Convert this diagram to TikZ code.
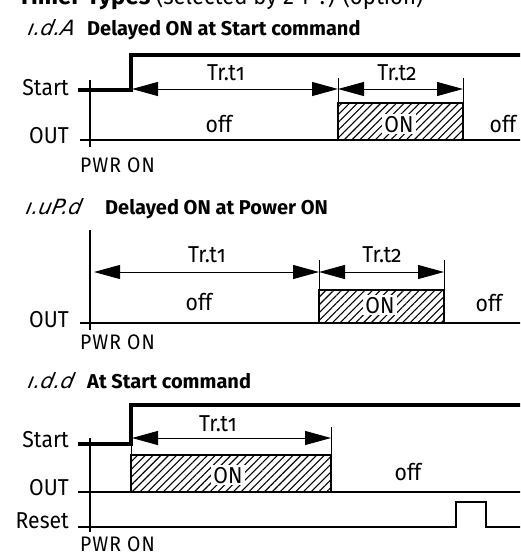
\documentclass[tikz,border=0pt]{standalone}
\usepackage{fontspec}
\setmainfont{Fira Sans}[FakeStretch=0.92]
\newfontfamily\ttlfont{Fira Sans}
\newfontfamily\segfont{DejaVu Sans}[FakeSlant=0.2]
\usetikzlibrary{arrows.meta,patterns.meta}
\newcommand{\trt}[1]{Tr.t{\addfontfeature{Numbers=OldStyle}#1}}
\begin{document}
\begin{tikzpicture}[x=1pt,y=-1pt,
  lbl/.style={font=\fontsize{23}{26}\selectfont, anchor=base east, inner sep=0pt},
  txt/.style={font=\fontsize{23}{26}\selectfont, anchor=base, inner sep=0pt},
  ttl/.style={font=\fontsize{20}{23}\ttlfont\bfseries, anchor=base west, inner sep=0pt},
  seg/.style={font=\fontsize{21}{24}\segfont\itshape, anchor=base west, inner sep=0pt},
  hdrs/.style={font=\fontsize{24}{27}\selectfont, anchor=base west, inner sep=0pt},
  pwr/.style={font=\fontsize{21}{24}\selectfont\addfontfeature{LetterSpace=5}, anchor=base west, inner sep=0pt},
  sig/.style={line width=3.2pt, line cap=rect},
  basel/.style={line width=1.8pt},
  axis/.style={line width=1.8pt},
  thin/.style={line width=0.6pt},
  dim/.style={line width=1pt, {Triangle[length=26pt,width=14pt]}-{Triangle[length=26pt,width=14pt]}},
  hatch/.style={draw, line width=1.8pt, pattern={Lines[angle=45,distance=5.5pt,line width=1.1pt]}},
  onlbl/.style={font=\fontsize{23}{26}\selectfont, anchor=base, fill=white, inner sep=2pt}
]
\useasboundingbox (0,0) rectangle (520,554);
\clip (0,0) rectangle (520,554);
% clipped heading (only its lower part lies inside the page)
\node[hdrs] (hdr) at (18,5) {{\ttlfont\bfseries Timer Types} (selected by 2-r-?) (option)};

% ================= Section 1 =================
\node[seg] (s1) at (27,35) {ı.d.A};
\node[ttl] (t1) at (87,35) {Delayed ON at Start command};
\coordinate (a1t) at (90,80); \coordinate (a1b) at (90,147);
\draw[axis] (a1t) -- (a1b);
\coordinate (st1a) at (80,90); \coordinate (st1b) at (131,90);
\coordinate (st1c) at (131,55); \coordinate (st1d) at (525,55);
\draw[sig] (st1a) -- (st1b) -- (st1c) -- (st1d);
\coordinate (o1a) at (80,140); \coordinate (o1b) at (525,140);
\draw[basel] (o1a) -- (o1b);
\node[lbl] (start1) at (69,95) {Start};
\node[lbl] (out1) at (69,143) {OUT};
\node[pwr] (p1) at (80,172) {PWR ON};
\coordinate (v1a) at (338,78); \coordinate (v1b) at (338,103);
\coordinate (v2a) at (463,78); \coordinate (v2b) at (463,103);
\draw[thin] (v1a) -- (v1b);
\draw[thin] (v2a) -- (v2b);
\coordinate (d1a) at (132,89); \coordinate (d1b) at (338,89); \coordinate (d1c) at (463,89);
\draw[dim] (d1a) -- (d1b);
\draw[dim] (d1b) -- (d1c);
\node[txt] (tr11) at (226,80) {\trt{1}};
\node[txt] (tr12) at (397,80) {\trt{2}};
\coordinate (b1a) at (338,103); \coordinate (b1b) at (463,140);
\draw[hatch] (b1a) rectangle (b1b);
\node[onlbl] (on1) at (399,132) {ON};
\node[txt] (off11) at (219,132) {off};
\node[txt] (off12) at (503,132) {off};

% ================= Section 2 =================
\node[seg] (s2) at (25,214) {ı.uP.d};
\node[ttl] (t2) at (105,214) {Delayed ON at Power ON};
\coordinate (a2t) at (90,230); \coordinate (a2b) at (90,330);
\draw[axis] (a2t) -- (a2b);
\coordinate (o2a) at (80,323); \coordinate (o2b) at (525,323);
\draw[basel] (o2a) -- (o2b);
\node[lbl] (out2) at (69,327) {OUT};
\node[pwr] (p2) at (80,349) {PWR ON};
\coordinate (w1a) at (319,260); \coordinate (w1b) at (319,290);
\coordinate (w2a) at (444,260); \coordinate (w2b) at (444,290);
\draw[thin] (w1a) -- (w1b);
\draw[thin] (w2a) -- (w2b);
\coordinate (d2a) at (94,272); \coordinate (d2b) at (319,272); \coordinate (d2c) at (444,272);
\draw[dim] (d2a) -- (d2b);
\draw[dim] (d2b) -- (d2c);
\node[txt] (tr21) at (207,262) {\trt{1}};
\node[txt] (tr22) at (382,262) {\trt{2}};
\coordinate (b2a) at (319,290); \coordinate (b2b) at (444,323);
\draw[hatch] (b2a) rectangle (b2b);
\node[onlbl] (on2) at (380,313) {ON};
\node[txt] (off21) at (199,310) {off};
\node[txt] (off22) at (489,311) {off};

% ================= Section 3 =================
\node[seg] (s3) at (27,388) {ı.d.d};
\node[ttl] (t3) at (87,388) {At Start command};
\coordinate (a3t) at (90,438); \coordinate (a3b) at (90,532);
\draw[axis] (a3t) -- (a3b);
\coordinate (st3a) at (80,444); \coordinate (st3b) at (131,444);
\coordinate (st3c) at (131,405); \coordinate (st3d) at (525,405);
\draw[sig] (st3a) -- (st3b) -- (st3c) -- (st3d);
\coordinate (o3a) at (78,492); \coordinate (o3b) at (525,492);
\draw[basel] (o3a) -- (o3b);
\coordinate (r3a) at (78,527); \coordinate (r3b) at (456,527);
\coordinate (r3c) at (456,502); \coordinate (r3d) at (486,502);
\coordinate (r3e) at (486,527); \coordinate (r3f) at (525,527);
\draw[basel] (r3a) -- (r3b) -- (r3c) -- (r3d) -- (r3e) -- (r3f);
\node[lbl] (start3) at (69,447) {Start};
\node[lbl] (out3) at (69,495) {OUT};
\node[lbl] (reset3) at (69,528) {Reset};
\node[pwr] (p3) at (80,551) {PWR ON};
\coordinate (u1a) at (131,444); \coordinate (u1b) at (131,455);
\coordinate (u2a) at (331,427); \coordinate (u2b) at (331,455);
\draw[thin] (u1a) -- (u1b);
\draw[thin] (u2a) -- (u2b);
\coordinate (d3a) at (132,438); \coordinate (d3b) at (331,438);
\draw[dim] (d3a) -- (d3b);
\node[txt] (tr31) at (218,431) {\trt{1}};
\coordinate (b3a) at (131,455); \coordinate (b3b) at (331,492);
\draw[hatch] (b3a) rectangle (b3b);
\node[onlbl] (on3) at (228,483) {ON};
\node[txt] (off3) at (408,480) {off};
\end{tikzpicture}
\end{document}
